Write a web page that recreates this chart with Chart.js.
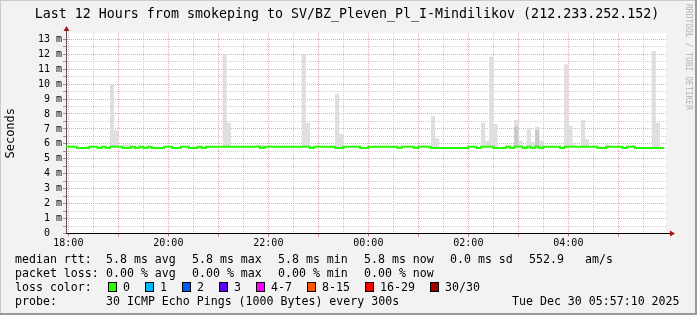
<!DOCTYPE html>
<html>
<head>
<meta charset="utf-8">
<script src="https://cdn.jsdelivr.net/npm/chart.js@4.4.1/dist/chart.umd.min.js"></script>
<style>
    html, body { margin: 0; padding: 0; background: #f2f2f2; }
    #wrap { width: 697px; height: 315px; }
</style>
</head>
<body>
<div id="wrap"><canvas id="chart" width="697" height="315"></canvas></div>
<script>
// time is in minutes after 18:00, each rrd step is 5 minutes (value stamped at step end)
const medianRtt = 5.8
const medianLow = 5.73
const medianLowSteps = [15, 20, 25, 40, 50, 70, 75, 85, 95, 105, 110, 115, 130, 135, 150, 155, 165, 235,
    295, 325, 330, 355, 360, 400, 420, 440, 445, 450, 455, 460, 465, 470, 475, 480, 495, 515, 520, 525,
    535, 550, 560, 570, 595, 640, 645, 670, 685, 690, 695, 700, 705, 710, 715]

const smokeSteps = [55, 60, 70, 75, 190, 195, 230, 235, 285, 290, 325, 330, 440, 445, 500, 505, 510, 515,
    540, 545, 555, 560, 565, 570, 600, 605, 620, 625, 650, 680, 705, 710]
const smokeTops = [10.0, 6.9, 5.95, 5.95, 12.0, 7.42, 5.93, 5.93, 11.97, 7.42, 9.34, 6.66, 7.86, 6.37, 7.42, 6.21, 11.83, 7.33,
    7.6, 6.21, 7.04, 6.12, 7.15, 6.21, 11.32, 7.2, 7.6, 6.32, 5.93, 5.93, 12.2, 7.42]
const darkSteps = [540, 565]
const darkTops = [7.15, 6.93]

const xTickLabels = ["18:00", "20:00", "22:00", "00:00", "02:00", "04:00"]
const yTickLabels = ["0  ", "1 m", "2 m", "3 m", "4 m", "5 m", "6 m", "7 m", "8 m", "9 m", "10 m", "11 m", "12 m", "13 m"]

const statsRtt = ["5.8 ms avg", "5.8 ms max", "5.8 ms min", "5.8 ms now", "0.0 ms sd", "552.9", "am/s"]
const statsLoss = ["0.00 % avg", "0.00 % max", "0.00 % min", "0.00 % now"]
const lossLabels = ["0", "1", "2", "3", "4-7", "8-15", "16-29", "30/30"]
const lossColors = ["#26ff00", "#00b8ff", "#0059ff", "#5e00ff", "#ff00ff", "#ff5500", "#ff0000", "#a10000"]

const colors = {
    median: "#26ff00",
    smoke: "#dfdfdf",
    smokeDark: "#c9c9c9",
    major: "#eaa8a8",
    minor: "#cfcfcf",
    arrow: "#a01818",
}

const stepEnds = []
for (let t = 0; t <= 715; t += 5) stepEnds.push(t)
const medianAt = (t) => medianLowSteps.includes(t) ? medianLow : medianRtt
const topAt = (steps, tops, t) => {
    const i = steps.indexOf(t)
    return i >= 0 ? Math.max(tops[i], medianAt(t)) : medianAt(t)
}
const toSteps = (fn) => stepEnds.flatMap((t) => [{ x: t - 5, y: fn(t) }, { x: t, y: fn(t) }])

const yGrid = []
for (let v = 0; v <= 13; v += 0.5) yGrid.push(v)
const xGrid = []
for (let m = 0; m <= 690; m += 30) xGrid.push(m)

const mono = "DejaVu Sans Mono"

const frame = {
    id: "frame",
    beforeDraw(chart) {
        const { ctx, chartArea: a } = chart
        ctx.save()
        ctx.fillStyle = "#f2f2f2"
        ctx.fillRect(0, 0, 697, 315)
        ctx.fillStyle = "#fff"
        ctx.fillRect(a.left, a.top, a.right - a.left, a.bottom - a.top)
        ctx.fillStyle = "#cbcbcb"
        ctx.fillRect(0, 0, 697, 1)
        ctx.fillRect(0, 0, 1, 315)
        ctx.fillStyle = "#999"
        ctx.fillRect(695, 0, 2, 315)
        ctx.fillRect(0, 313, 697, 2)
        ctx.restore()
    },
    afterDraw(chart) {
        const { ctx, chartArea: a } = chart
        const axisY = Math.round(a.bottom - 0.5) + 0.5
        ctx.save()
        // axis extensions and arrows
        ctx.strokeStyle = "#000"
        ctx.lineWidth = 1
        ctx.beginPath()
        ctx.moveTo(a.right, axisY)
        ctx.lineTo(a.right + 5, axisY)
        ctx.stroke()
        ctx.strokeStyle = "#555"
        ctx.beginPath()
        ctx.moveTo(a.left + 0.5, a.top)
        ctx.lineTo(a.left + 0.5, a.top - 4)
        ctx.stroke()
        ctx.fillStyle = colors.arrow
        ctx.beginPath()
        ctx.moveTo(a.left + 0.5, a.top - 7)
        ctx.lineTo(a.left + 3.5, a.top - 2)
        ctx.lineTo(a.left - 2.5, a.top - 2)
        ctx.fill()
        ctx.beginPath()
        ctx.moveTo(a.right + 9, axisY)
        ctx.lineTo(a.right + 4, axisY - 3)
        ctx.lineTo(a.right + 4, axisY + 3)
        ctx.fill()

        // title
        ctx.fillStyle = "#000"
        ctx.textBaseline = "alphabetic"
        ctx.textAlign = "center"
        ctx.font = `13.3px "${mono}"`
        ctx.fillText("Last 12 Hours from smokeping to SV/BZ_Pleven_Pl_I-Mindilikov (212.233.252.152)", 347, 18)

        // legend rows
        ctx.textAlign = "left"
        ctx.font = `11.6px "${mono}"`
        const rowY = [263, 277, 291, 305]
        ctx.fillText("median rtt:", 15, rowY[0])
        const rttX = [106, 192, 278, 364, 450, 529, 585]
        statsRtt.forEach((s, i) => ctx.fillText(s, rttX[i], rowY[0]))
        ctx.fillText("packet loss:", 15, rowY[1])
        const lossX = [106, 192, 278, 364]
        statsLoss.forEach((s, i) => ctx.fillText(s, lossX[i], rowY[1]))
        ctx.fillText("loss color:", 15, rowY[2])
        const boxX = [108, 145, 182, 219, 256, 307, 365, 430]
        lossLabels.forEach((s, i) => {
            ctx.fillStyle = lossColors[i]
            ctx.fillRect(boxX[i], 282, 9, 10)
            ctx.strokeStyle = "#000"
            ctx.strokeRect(boxX[i] + 0.5, 282.5, 8, 9)
            ctx.fillStyle = "#000"
            ctx.fillText(s, boxX[i] + 15, rowY[2])
        })
        ctx.fillText("probe:", 15, rowY[3])
        ctx.fillText("30 ICMP Echo Pings (1000 Bytes) every 300s", 106, rowY[3])
        ctx.fillText("Tue Dec 30 05:57:10 2025", 512, rowY[3])

        // watermark
        ctx.translate(688, 4)
        ctx.rotate(Math.PI / 2)
        ctx.fillStyle = "#b4b4b4"
        ctx.font = `8px "${mono}"`
        ctx.textBaseline = "middle"
        ctx.fillText("RRDTOOL / TOBI OETIKER", 0, 0)
        ctx.restore()
    },
}

const tickFont = { family: mono, size: 10 }

new Chart(document.getElementById("chart"), {
    type: "line",
    data: {
        datasets: [
            {
                label: "median rtt",
                data: toSteps(medianAt),
                borderColor: colors.median,
                borderWidth: 2,
                borderCapStyle: "butt",
                pointRadius: 0,
                fill: false,
                order: 0,
                clip: 0,
            },
            {
                label: "smoke dark",
                data: toSteps((t) => topAt(darkSteps, darkTops, t)),
                borderColor: "transparent",
                borderWidth: 0,
                backgroundColor: colors.smokeDark,
                fill: "-1",
                pointRadius: 0,
                order: 1,
                clip: 0,
            },
            {
                label: "smoke",
                data: toSteps((t) => topAt(smokeSteps, smokeTops, t)),
                borderColor: "transparent",
                borderWidth: 0,
                backgroundColor: colors.smoke,
                fill: "-2",
                pointRadius: 0,
                order: 2,
                clip: 0,
            },
        ],
    },
    options: {
        responsive: false,
        animation: false,
        events: [],
        devicePixelRatio: 1,
        layout: { padding: { left: 0, top: 33, right: 31, bottom: 65.5 } },
        plugins: {
            legend: { display: false },
            tooltip: { enabled: false },
        },
        scales: {
            x: {
                type: "linear",
                min: -2.83,
                max: 717.17,
                afterBuildTicks: (s) => { s.ticks = xGrid.map((v) => ({ value: v })) },
                afterFit: (s) => { s.height = 16 },
                ticks: {
                    autoSkip: false,
                    maxRotation: 0,
                    padding: 1,
                    color: "#000",
                    font: tickFont,
                    callback: (v) => (v % 120 === 0 ? xTickLabels[v / 120] : ""),
                },
                grid: {
                    color: (c) => (c.tick && c.tick.value % 60 === 0 ? colors.major : colors.minor),
                    tickLength: 3,
                    tickColor: (c) => (c.tick && c.tick.value % 60 === 0 ? "#d08080" : "transparent"),
                },
                border: { display: true, color: "#000", dash: [1, 1] },
            },
            y: {
                type: "linear",
                min: 0,
                max: 13.42,
                afterBuildTicks: (s) => { s.ticks = yGrid.map((v) => ({ value: v })) },
                afterFit: (s) => { s.width = 66 },
                ticks: {
                    autoSkip: false,
                    padding: 1,
                    color: "#000",
                    font: tickFont,
                    callback: (v) => (Number.isInteger(v) ? yTickLabels[v] : ""),
                },
                grid: {
                    color: (c) => (c.tick && Number.isInteger(c.tick.value) ? colors.major : colors.minor),
                    tickLength: 3,
                    tickColor: "#999",
                },
                border: { display: true, color: "#555", dash: [1, 1] },
                title: {
                    display: true,
                    text: "Seconds",
                    color: "#000",
                    font: { family: mono, size: 12 },
                    padding: { top: 4, bottom: 0 },
                },
            },
        },
    },
    plugins: [frame],
})
</script>
</body>
</html>
